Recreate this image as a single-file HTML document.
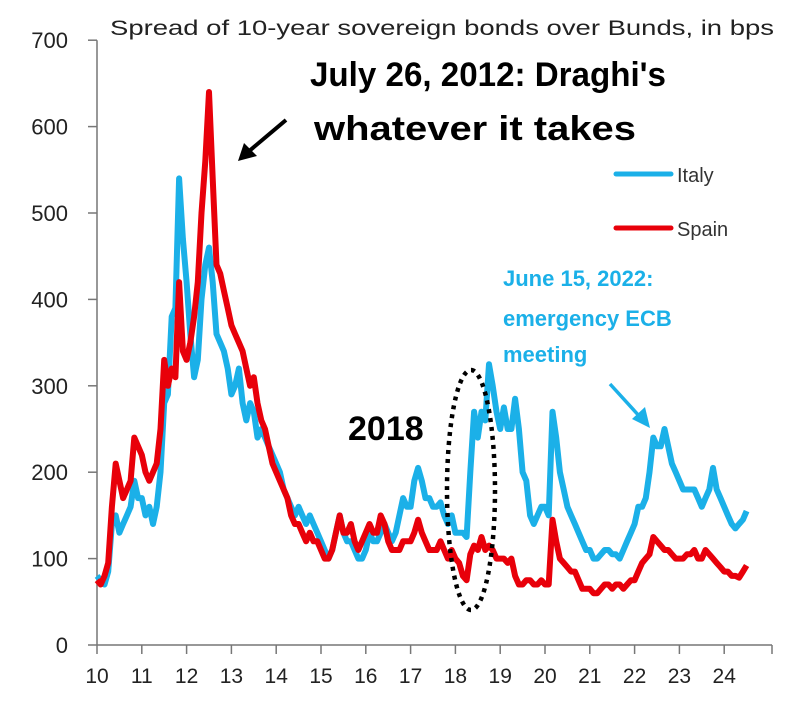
<!DOCTYPE html>
<html><head><meta charset="utf-8"><style>
body{margin:0;background:#fff;}
svg{display:block;font-family:"Liberation Sans",Calibri,sans-serif;}
</style></head><body>
<svg id="chart" width="791" height="708" viewBox="0 0 791 708" xmlns="http://www.w3.org/2000/svg">
<text x="110" y="35" font-size="21" textLength="664" lengthAdjust="spacingAndGlyphs" fill="#222">Spread of 10-year sovereign bonds over Bunds, in bps</text>
<g id="axes"></g>
<g id="series"></g>
<g>
 <line x1="616" y1="174" x2="671" y2="174" stroke="#1bb0e8" stroke-width="5" stroke-linecap="round"/>
 <text x="677" y="182" font-size="20" fill="#333">Italy</text>
 <line x1="616" y1="228" x2="671" y2="228" stroke="#e8000a" stroke-width="5" stroke-linecap="round"/>
 <text x="677" y="236" font-size="20" fill="#333">Spain</text>
</g>
<text x="310" y="86" font-size="34" font-weight="bold" textLength="356" lengthAdjust="spacingAndGlyphs" fill="#000">July 26, 2012: Draghi's</text>
<text x="314" y="140" font-size="34" font-weight="bold" textLength="322" lengthAdjust="spacingAndGlyphs" fill="#000">whatever it takes</text>
<g>
 <line x1="286" y1="120" x2="248" y2="152" stroke="#000" stroke-width="4"/>
 <polygon points="238,161 244,143 257,156" fill="#000"/>
</g>
<text x="503" y="286" font-size="22" font-weight="bold" fill="#1bb0e8">June 15, 2022:</text>
<text x="503" y="326" font-size="22" font-weight="bold" fill="#1bb0e8">emergency ECB</text>
<text x="503" y="362" font-size="22" font-weight="bold" fill="#1bb0e8">meeting</text>
<g>
 <line x1="610" y1="384" x2="641" y2="418" stroke="#1bb0e8" stroke-width="3.5"/>
 <polygon points="650,428 632,419 645,407" fill="#1bb0e8"/>
</g>
<text x="348" y="440" font-size="34" font-weight="bold" fill="#000">2018</text>
<ellipse cx="471" cy="490" rx="24" ry="120" fill="none" stroke="#000" stroke-width="4.5" stroke-dasharray="4,5"/>
</svg>
<script>
const yearTicks=[10,11,12,13,14,15,16,17,18,19,20,21,22,23,24];
const yTicks=[0,100,200,300,400,500,600,700];
const italy=[80,75,70,85,140,150,130,140,150,160,190,170,
170,150,160,140,160,200,280,290,380,390,540,470,
420,360,310,330,400,440,460,420,360,350,340,320,
290,300,320,280,260,280,270,240,250,240,230,220,
210,200,180,170,160,150,160,150,140,150,140,130,
120,110,100,110,130,150,130,120,120,110,100,100,
110,130,120,120,130,140,130,120,130,150,170,160,
160,190,205,190,170,170,160,160,165,150,140,150,
130,130,130,125,200,270,240,270,260,325,300,270,
250,275,250,250,285,250,200,190,150,140,150,160,
160,150,270,240,200,180,160,150,140,130,120,110,
110,100,100,105,110,110,105,105,100,110,120,130,
140,160,160,170,200,240,230,230,250,230,210,200,
190,180,180,180,180,170,160,170,180,205,180,170,
160,150,140,135,140,145,155];
const spain=[75,70,80,95,160,210,190,170,180,190,240,230,
220,200,190,200,210,250,330,300,320,310,420,340,
330,350,380,420,500,560,640,540,440,430,410,390,
370,360,350,340,320,300,310,280,260,250,230,210,
200,190,180,170,150,140,140,130,120,130,120,120,
110,100,100,110,130,150,130,130,140,120,110,120,
130,140,130,130,150,140,120,110,110,110,120,120,
120,130,145,130,120,110,110,110,120,110,100,110,
100,95,80,75,105,115,110,125,110,115,110,100,
100,100,95,100,80,70,70,75,75,70,70,75,
70,70,145,120,100,95,90,85,85,75,65,65,
65,60,60,65,70,70,65,70,70,65,70,75,
75,85,95,100,105,125,120,115,110,110,105,100,
100,100,105,105,110,100,100,110,105,100,95,90,
85,85,80,80,78,85,92];
const NS="http://www.w3.org/2000/svg";
const X=t=>97+(t-10)*44.8;
const Y=v=>645-v*0.864;
const axes=document.getElementById('axes'),series=document.getElementById('series');
function mk(tag,attrs,parent){const e=document.createElementNS(NS,tag);for(const k in attrs)e.setAttribute(k,attrs[k]);parent.appendChild(e);return e;}
const ya=mk('line',{x1:97,y1:Y(700),x2:97,y2:645,stroke:'#777','stroke-width':1.5},axes);


const xa=mk('line',{x1:97,y1:645,x2:772,y2:645,stroke:'#777','stroke-width':1.5},axes);


yTicks.forEach(v=>{
 const tk=mk('line',{x1:88,y1:Y(v),x2:97,y2:Y(v),stroke:'#777','stroke-width':1.5},axes);
 
 
 const t=mk('text',{x:68,y:Y(v)+8,'text-anchor':'end','font-size':22,fill:'#222'},axes);
 t.textContent=v;
 
 
});
yearTicks.forEach(y=>{
 const tk=mk('line',{x1:X(y),y1:645,x2:X(y),y2:654,stroke:'#777','stroke-width':1.5},axes);
 
 
 const t=mk('text',{x:X(y),y:683,'text-anchor':'middle','font-size':21,fill:'#222'},axes);
 t.textContent=y;
 
 
});
const endTk=mk('line',{x1:772,y1:645,x2:772,y2:654,stroke:'#777','stroke-width':1.5},axes);


function draw(arr,color,name){
 const d=arr.map((v,i)=>(i?'L':'M')+X(10+i/12).toFixed(1)+','+Y(v).toFixed(1)).join('');
 const p=mk('path',{d:d,fill:'none',stroke:color,'stroke-width':6,'stroke-linejoin':'round'},series);
 
 
}
draw(italy,'#1bb0e8','italy-line');
draw(spain,'#e8000a','spain-line');
</script>
</body></html>
